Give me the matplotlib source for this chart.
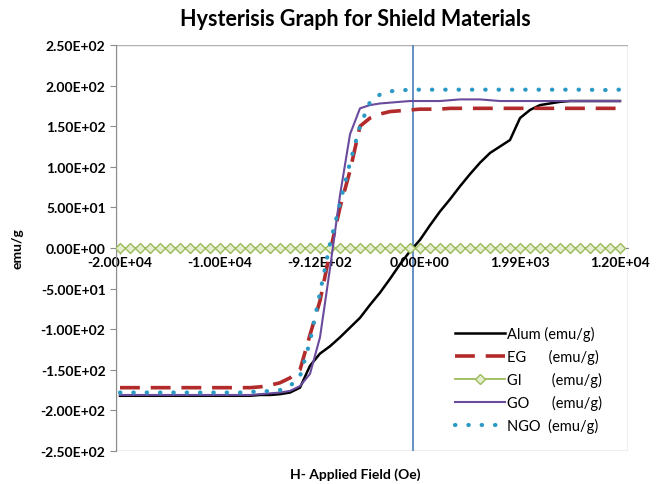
import numpy as np
import matplotlib.pyplot as plt
from matplotlib.ticker import FuncFormatter, MultipleLocator
from matplotlib.patches import Rectangle

plt.rcParams['font.family'] = ['Lato', 'DejaVu Sans']

# category axis: 51 readings, labels every 10th
tick_pos = [0, 10, 20, 30, 40, 50]
tick_labels = ['-2.00E+04', '-1.00E+04', '-9.12E+02', '0.00E+00', '1.99E+03', '1.20E+04']

alum = [-182, -182, -182, -182, -182, -182, -182, -182, -182, -182,
        -182, -182, -182, -182, -181, -181, -180, -178, -172, -145,
        -130, -121, -110, -98, -86, -70, -55, -38, -20, -4,
        10, 28, 45, 60, 76, 91, 105, 117, 125, 133,
        160, 170, 176, 178, 180, 181, 181, 181, 181, 181, 181]
eg = [-172, -172, -172, -172, -172, -172, -172, -172, -172, -172,
      -172, -172, -172, -172, -171, -169, -166, -160, -150, -107,
      -65, -5, 50, 95, 150, 160, 165, 168, 169, 170,
      171, 171, 171, 172, 172, 172, 172, 172, 172, 172,
      172, 172, 172, 172, 172, 172, 172, 172, 172, 172, 172]
gi = [0] * 51
go = [-181, -181, -181, -181, -181, -181, -181, -181, -181, -181,
      -181, -181, -181, -181, -180, -179, -178, -176, -170, -155,
      -110, -25, 65, 140, 172, 176, 178, 179, 180, 181,
      181, 181, 181, 182, 183, 183, 183, 182, 181, 181,
      181, 181, 181, 181, 181, 181, 181, 181, 181, 181, 181]
ngo = [-178, -178, -178, -178, -178, -178, -178, -178, -178, -178,
       -178, -178, -178, -177, -177, -176, -175, -170, -158, -115,
       -55, 5, 55, 105, 150, 180, 189, 193, 194, 195,
       195, 195, 195, 195, 195, 195, 195, 195, 195, 195,
       195, 195, 195, 195, 195, 195, 195, 195, 194, 195, 195]
zero_field = 29.3  # position of the H = 0 marker line

idx = np.arange(len(alum))

fig = plt.figure(figsize=(6.69, 4.85), dpi=100)
ax = fig.add_axes([116/669, 33/485, 512/669, 406/485])

ax.axvline(zero_field, color='#4a7ebb', lw=1.2, zorder=1)

ax.plot(idx, alum, color='black', lw=1.8, label='Alum (emu/g)', zorder=3)
ax.plot(idx, eg, color='#b22a2a', lw=2.6, dashes=(5.5, 3), label='EG      (emu/g)', zorder=3)
ax.plot(idx, gi, color='#9bbb59', lw=1.3, marker='D', markersize=5.5,
        markerfacecolor='#e4edd0', markeredgecolor='#9bbb59', markeredgewidth=1,
        label='GI        (emu/g)', zorder=3)
ax.plot(idx, go, color='#6a4a9c', lw=1.5, label='GO      (emu/g)', zorder=3)
ax.plot(idx, ngo, color='#2a9ac4', lw=3, dashes=(0.1, 3.1), dash_capstyle='round',
        label='NGO  (emu/g)', zorder=4)

ax.set_xlim(-0.4, 50.8)
ax.set_ylim(-250, 250)
ax.yaxis.set_major_locator(MultipleLocator(50))
ax.yaxis.set_major_formatter(FuncFormatter(lambda v, p: f'{v:.2E}'))
ax.set_xticks(tick_pos)
ax.set_xticklabels(tick_labels)

for s in ['top', 'right']:
    ax.spines[s].set_visible(False)
ax.spines['bottom'].set_position(('data', 0))
ax.spines['bottom'].set_color('#8c8c8c')
ax.spines['left'].set_color('#8c8c8c')
ax.add_patch(Rectangle((0, 0), 1, 1, transform=ax.transAxes, fill=False,
                       edgecolor='#b0b0b0', lw=1, zorder=0))

ax.tick_params(axis='both', colors='#8c8c8c', length=4, labelcolor='black', labelsize=10)
for t in ax.get_xticklabels() + ax.get_yticklabels():
    t.set_fontweight('bold')
ax.tick_params(axis='x', pad=2)

fig.text(355/669, 1 - 20/485, 'Hysterisis Graph for Shield Materials', ha='center', va='center',
         fontsize=15.5, fontweight='bold')
fig.text(355/669, 1 - 475/485, 'H- Applied Field (Oe)', ha='center', va='center',
         fontsize=10, fontweight='bold')
fig.text(18/669, 1 - 249/485, 'emu/g', ha='center', va='center', rotation=90,
         fontsize=10, fontweight='bold')

ax.legend(loc='upper left', bbox_to_anchor=(452/669, 1 - 324/485),
          bbox_transform=fig.transFigure, frameon=False, fontsize=10.5,
          handlelength=3.4, handletextpad=0.15, labelspacing=0.55,
          borderpad=0.2, borderaxespad=0)

fig.savefig('out.png', dpi=100)
